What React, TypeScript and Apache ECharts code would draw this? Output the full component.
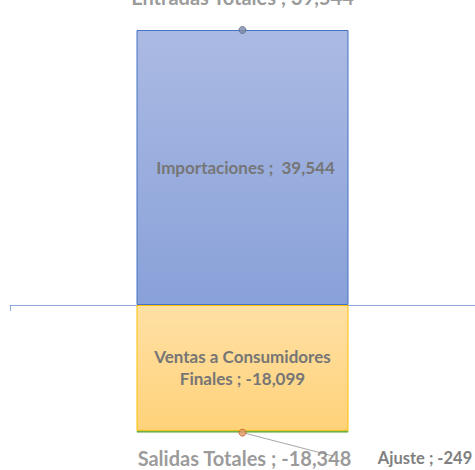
import React, { useEffect, useRef } from "react";
import * as echarts from "echarts";

const categories = ["Flujo"];
const importaciones = [39544];
const ventas = [-18099];
const ajuste = [-249];
const entradasTotales = [39544];
const salidasTotales = [-18348];

const fmt = (v: number) => v.toLocaleString("en-US");

export default function App() {
  const ref = useRef<HTMLDivElement>(null);
  useEffect(() => {
    document.body.style.margin = "0";
    const chart = echarts.init(ref.current!, null, { renderer: "svg" });
    const font = "Lato, 'Noto Sans', sans-serif";
    chart.setOption({
      animation: false,
      grid: { left: 10, right: 0, top: 30, bottom: 37.4 },
      xAxis: {
        type: "category",
        data: categories,
        boundaryGap: true,
        axisLine: { show: true, lineStyle: { color: "#8faadc", width: 1 } },
        axisTick: { show: true, length: 6, lineStyle: { color: "#8faadc" } },
        axisLabel: { show: false },
        splitLine: { show: false },
      },
      yAxis: {
        type: "value",
        min: salidasTotales[0],
        max: entradasTotales[0],
        show: false,
        splitLine: { show: false },
      },
      series: [
        {
          name: "Importaciones",
          type: "bar",
          stack: "total",
          barWidth: 212,
          data: importaciones,
          itemStyle: {
            color: new echarts.graphic.LinearGradient(0, 0, 0, 1, [
              { offset: 0, color: "#abbae3" },
              { offset: 1, color: "#89a1d9" },
            ]),
            borderColor: "#4472c4",
            borderWidth: 1,
          },
          label: {
            show: true,
            position: "inside",
            offset: [3, 0],
            formatter: (p: any) => `Importaciones ;  ${fmt(p.value)}`,
            color: "#767676",
            fontFamily: font,
            fontWeight: "bold",
            fontSize: 17,
          },
        },
        {
          name: "Ventas a Consumidores Finales",
          type: "bar",
          stack: "total",
          barWidth: 212,
          data: ventas,
          itemStyle: {
            color: new echarts.graphic.LinearGradient(0, 0, 0, 1, [
              { offset: 0, color: "#ffe0a4" },
              { offset: 1, color: "#ffd27a" },
            ]),
            borderColor: "#ffc000",
            borderWidth: 1,
          },
          label: {
            show: true,
            position: "inside",
            formatter: (p: any) => `Ventas a Consumidores\nFinales ; ${fmt(p.value)}`,
            color: "#767676",
            fontFamily: font,
            fontWeight: "bold",
            fontSize: 17,
            lineHeight: 22,
          },
        },
        {
          name: "Ajuste",
          type: "bar",
          stack: "total",
          barWidth: 212,
          data: ajuste,
          itemStyle: { color: "#70ad47", borderColor: "#70ad47", borderWidth: 1 },
          label: {
            show: true,
            formatter: (p: any) => `Ajuste ; ${fmt(p.value)}`,
            color: "#7f7f7f",
            fontFamily: font,
            fontWeight: "bold",
            fontSize: 16.5,
          },
          labelLayout: { x: 425, y: 458, align: "center", verticalAlign: "middle" },
        },
        {
          name: "Entradas Totales",
          type: "scatter",
          data: entradasTotales,
          symbol: "circle",
          symbolSize: 7,
          z: 5,
          itemStyle: { color: "#7d8aa6", borderColor: "#5b6b8f", borderWidth: 1 },
          label: {
            show: true,
            position: "top",
            distance: 17.5,
            formatter: (p: any) => `Entradas Totales ; ${fmt(p.value)}`,
            color: "#7f7f7f",
            fontFamily: font,
            fontWeight: "bold",
            fontSize: 20,
            lineHeight: 24,
          },
        },
        {
          name: "Salidas Totales",
          type: "scatter",
          data: salidasTotales,
          symbol: "circle",
          symbolSize: 7,
          z: 5,
          itemStyle: { color: "#e59a68", borderColor: "#c0652e", borderWidth: 1 },
          label: {
            show: true,
            position: "bottom",
            distance: 11,
            offset: [2, 0],
            formatter: (p: any) => `Salidas Totales ; ${fmt(p.value)}`,
            color: "#7f7f7f",
            fontFamily: font,
            fontWeight: "bold",
            fontSize: 20,
            lineHeight: 20,
          },
          markLine: {
            silent: true,
            symbol: ["none", "none"],
            lineStyle: { color: "#a6a6a6", width: 1, type: "solid" },
            label: { show: false },
            data: [[{ coord: [0, salidasTotales[0]] }, { x: 333, y: 456 }]],
          },
        },
      ],
    });
    return () => chart.dispose();
  }, []);
  return <div ref={ref} style={{ width: 475, height: 470 }} />;
}
